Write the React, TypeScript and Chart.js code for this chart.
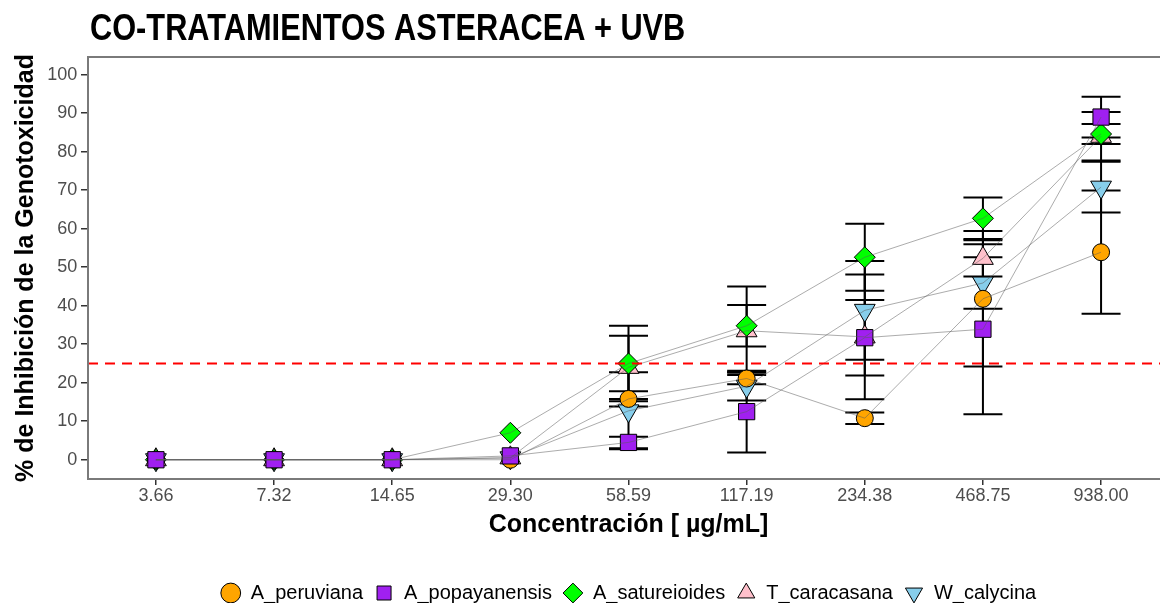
import React, { useEffect, useRef } from "react";
import { Chart, registerables } from "chart.js";

Chart.register(...registerables);

// ---------- data ----------
const concentrations = ["3.66", "7.32", "14.65", "29.30", "58.59", "117.19", "234.38", "468.75", "938.00"];
const seriesNames = ["A_peruviana", "A_popayanensis", "A_satureioides", "T_caracasana", "W_calycina"];

const peruvianaMean = [0, 0, 0, 0, 15.8, 21.1, 10.8, 41.8, 53.9];
const peruvianaSd = [0, 0, 0, 0, 2.0, 1.5, 1.5, 17.6, 16.0];
const popayanensisMean = [0, 0, 0, 1.0, 4.5, 12.5, 31.7, 33.9, 89.0];
const popayanensisSd = [0, 0, 0, 0, 1.5, 10.6, 9.8, 22.1, 5.3];
const satureioidesMean = [0, 0, 0, 7.0, 25.0, 34.8, 52.6, 62.7, 84.6];
const satureioidesSd = [0, 0, 0, 0, 9.8, 5.4, 8.7, 5.4, 2.6];
const caracasanaMean = [0, 0, 0, 0.5, 24.0, 33.5, 31.9, 52.3, 84.0];
const caracasanaSd = [0, 0, 0, 0, 8.2, 11.5, 16.2, 4.7, 6.3];
const calycinaMean = [0, 0, 0, 0.5, 12.7, 19.1, 38.8, 45.9, 70.8];
const calycinaSd = [0, 0, 0, 0, 10.0, 3.7, 12.8, 6.7, 6.6];

const yTickValues = [0, 10, 20, 30, 40, 50, 60, 70, 80, 90, 100];
const thresholdValue = 25;

const titleText = "CO-TRATAMIENTOS ASTERACEA + UVB";
const yTitleText = "% de Inhibición de la Genotoxicidad";
const xTitleText = "Concentración [ µg/mL]";

// ---------- styles ----------
const means = [peruvianaMean, popayanensisMean, satureioidesMean, caracasanaMean, calycinaMean];
const sds = [peruvianaSd, popayanensisSd, satureioidesSd, caracasanaSd, calycinaSd];
const fillColors = ["#FFA500", "#A020F0", "#00FF00", "#FFC0CB", "#87CEEB"];
const pointStyles = ["circle", "rect", "rectRot", "triangle", "triangle"];
const pointRotations = [0, 0, 0, 0, 180];
const pointRadii = [8.5, 11.5, 10.5, 12, 12];
const drawOrder = [11, 10, 12, 14, 13]; // higher = drawn earlier
const FONT = "'Liberation Sans', Arial, Helvetica, sans-serif";
const X_PAD = 0.575;
const CAP_WIDTH = 0.33;
const CANVAS_W = 1170;
const CANVAS_H = 613;

// condensed bold title (the original uses a narrow face)
const titlePlugin = {
  id: "narrowTitle",
  afterDraw(chart: any) {
    const { ctx } = chart;
    ctx.save();
    ctx.font = `bold 37px ${FONT}`;
    ctx.fillStyle = "#000";
    ctx.textAlign = "left";
    ctx.textBaseline = "alphabetic";
    ctx.translate(90, 40);
    ctx.scale(0.831, 1);
    ctx.fillText(titleText, 0, 0);
    ctx.restore();
  },
};

const errorBarPlugin = {
  id: "errorBars",
  beforeDatasetsDraw(chart: any) {
    const { ctx, scales } = chart;
    const x = scales.x;
    const y = scales.y;
    ctx.save();
    ctx.strokeStyle = "#000";
    ctx.lineWidth = 2;
    means.forEach((m, s) => {
      m.forEach((v, i) => {
        const sd = sds[s][i];
        if (!sd) return;
        const px = x.getPixelForValue(i);
        const half = x.getPixelForValue(i + CAP_WIDTH / 2) - px;
        const yt = y.getPixelForValue(v + sd);
        const yb = y.getPixelForValue(v - sd);
        ctx.beginPath();
        ctx.moveTo(px, yt);
        ctx.lineTo(px, yb);
        ctx.moveTo(px - half, yt);
        ctx.lineTo(px + half, yt);
        ctx.moveTo(px - half, yb);
        ctx.lineTo(px + half, yb);
        ctx.stroke();
      });
    });
    ctx.restore();
  },
  afterDatasetsDraw(chart: any) {
    const { ctx, chartArea, scales } = chart;
    const y = scales.y;
    ctx.save();
    ctx.strokeStyle = "#FF0000";
    ctx.lineWidth = 2;
    ctx.setLineDash([10, 7]);
    const ty = y.getPixelForValue(thresholdValue);
    ctx.beginPath();
    ctx.moveTo(chartArea.left, ty);
    ctx.lineTo(chartArea.right, ty);
    ctx.stroke();
    ctx.setLineDash([]);
    ctx.strokeStyle = "#7a7a7a";
    ctx.lineWidth = 2;
    ctx.strokeRect(chartArea.left, chartArea.top, chartArea.right - chartArea.left, chartArea.bottom - chartArea.top);
    ctx.restore();
  },
};

export default function App() {
  const ref = useRef<HTMLCanvasElement>(null);

  useEffect(() => {
    if (!ref.current) return;
    const pointSets = seriesNames.map((name, s) => ({
      label: name,
      data: means[s].map((v, i) => ({ x: i, y: v })),
      showLine: false,
      pointStyle: pointStyles[s],
      pointRotation: pointRotations[s],
      pointRadius: pointRadii[s],
      pointHoverRadius: pointRadii[s],
      pointBackgroundColor: fillColors[s],
      pointBorderColor: "#000",
      pointBorderWidth: 1,
      backgroundColor: fillColors[s],
      borderColor: "#000",
      borderWidth: 1,
      order: drawOrder[s],
    }));
    const lineSets = seriesNames.map((name, s) => ({
      label: name + "_line",
      data: means[s].map((v, i) => ({ x: i, y: v })),
      showLine: true,
      pointRadius: 0,
      borderColor: "rgba(90,90,90,0.5)",
      borderWidth: 1,
      fill: false,
      order: s,
    }));

    const chart = new Chart(ref.current, {
      type: "line",
      data: { datasets: [...pointSets, ...lineSets] as any },
      plugins: [errorBarPlugin, titlePlugin],
      options: {
        animation: false,
        responsive: false,
        devicePixelRatio: 1,
        layout: { autoPadding: false, padding: { top: 57, left: 0, right: 1, bottom: 0 } },
        plugins: {
          tooltip: { enabled: false },
          title: { display: false },
          legend: {
            display: true,
            position: "bottom",
            align: "center",
            fullSize: false,
            labels: {
              usePointStyle: true,
              boxHeight: 14,
              color: "#000",
              padding: 11,
              font: { family: FONT, size: 20 },
              filter: (item: any) => item.datasetIndex < seriesNames.length,
              sort: (a: any, b: any) => a.datasetIndex - b.datasetIndex,
            },
          },
        },
        scales: {
          x: {
            type: "linear",
            min: -X_PAD,
            max: concentrations.length - 1 + X_PAD,
            afterBuildTicks: (scale: any) => {
              scale.ticks = concentrations.map((_, i) => ({ value: i }));
            },
            afterFit: (scale: any) => {
              scale.height = 93;
              scale.paddingLeft = 0;
              scale.paddingRight = 0;
            },
            ticks: {
              autoSkip: false,
              maxRotation: 0,
              padding: 0,
              color: "#4d4d4d",
              font: { family: FONT, size: 18 },
              callback: (v: any) => concentrations[v as number],
            },
            grid: { drawOnChartArea: false, drawTicks: true, tickLength: 6, color: "#333", lineWidth: 1.5 },
            border: { display: false },
            title: {
              display: true,
              text: xTitleText,
              color: "#000",
              font: { family: FONT, size: 25, weight: "bold", lineHeight: 1.2 },
              padding: { top: 0, bottom: 32 },
            },
          },
          y: {
            type: "linear",
            min: -5,
            max: 104.6,
            afterBuildTicks: (scale: any) => {
              scale.ticks = yTickValues.map((v) => ({ value: v }));
            },
            afterFit: (scale: any) => {
              scale.width = 88;
              scale.paddingTop = 0;
              scale.paddingBottom = 0;
            },
            ticks: {
              padding: 3.7,
              color: "#4d4d4d",
              font: { family: FONT, size: 18 },
            },
            grid: { drawOnChartArea: false, drawTicks: true, tickLength: 7, color: "#333", lineWidth: 1.5 },
            border: { display: false },
            title: {
              display: true,
              text: yTitleText,
              color: "#000",
              font: { family: FONT, size: 25, weight: "bold", lineHeight: 1.2 },
              padding: { top: 11, bottom: 0 },
            },
          },
        },
      } as any,
    });
    return () => chart.destroy();
  }, []);

  return (
    <div
      style={{
        position: "fixed",
        left: 0,
        top: 0,
        width: 1160,
        height: 603,
        overflow: "hidden",
        background: "#fff",
      }}
    >
      <canvas
        ref={ref}
        role="img"
        aria-label={titleText}
        width={CANVAS_W}
        height={CANVAS_H}
        style={{ display: "block", width: CANVAS_W, height: CANVAS_H }}
      />
    </div>
  );
}
